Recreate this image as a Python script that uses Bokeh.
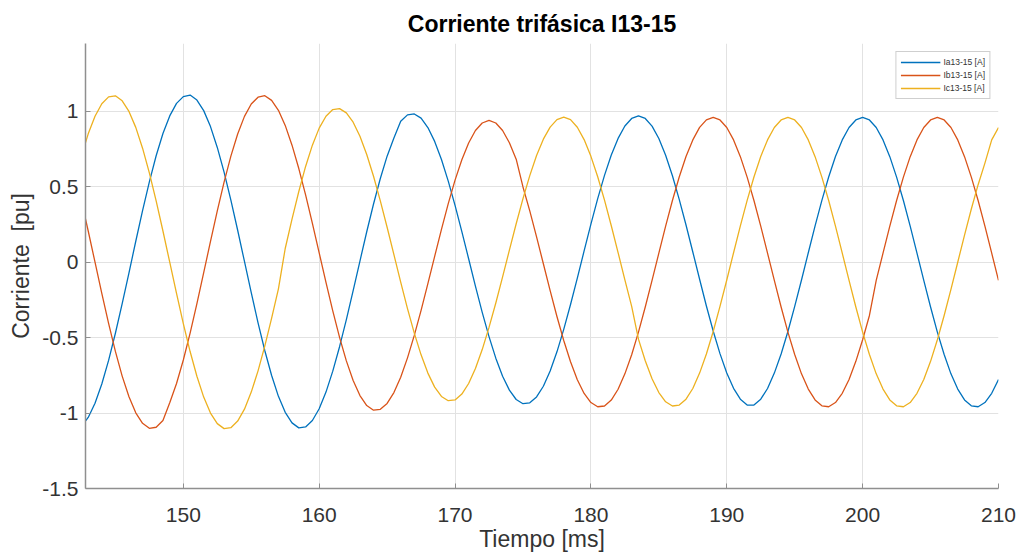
from bokeh.plotting import figure
from bokeh.models import Range1d, FixedTicker
from bokeh.embed import file_html
from bokeh.resources import INLINE

tiempo_ms = [
    142.5, 143.0, 143.5, 144.0, 144.5, 145.0, 145.5, 146.0, 146.5, 147.0,
    147.5, 148.0, 148.5, 149.0, 149.5, 150.0, 150.5, 151.0, 151.5, 152.0,
    152.5, 153.0, 153.5, 154.0, 154.5, 155.0, 155.5, 156.0, 156.5, 157.0,
    157.5, 158.0, 158.5, 159.0, 159.5, 160.0, 160.5, 161.0, 161.5, 162.0,
    162.5, 163.0, 163.5, 164.0, 164.5, 165.0, 165.5, 166.0, 166.5, 167.0,
    167.5, 168.0, 168.5, 169.0, 169.5, 170.0, 170.5, 171.0, 171.5, 172.0,
    172.5, 173.0, 173.5, 174.0, 174.5, 175.0, 175.5, 176.0, 176.5, 177.0,
    177.5, 178.0, 178.5, 179.0, 179.5, 180.0, 180.5, 181.0, 181.5, 182.0,
    182.5, 183.0, 183.5, 184.0, 184.5, 185.0, 185.5, 186.0, 186.5, 187.0,
    187.5, 188.0, 188.5, 189.0, 189.5, 190.0, 190.5, 191.0, 191.5, 192.0,
    192.5, 193.0, 193.5, 194.0, 194.5, 195.0, 195.5, 196.0, 196.5, 197.0,
    197.5, 198.0, 198.5, 199.0, 199.5, 200.0, 200.5, 201.0, 201.5, 202.0,
    202.5, 203.0, 203.5, 204.0, 204.5, 205.0, 205.5, 206.0, 206.5, 207.0,
    207.5, 208.0, 208.5, 209.0, 209.5, 210.0,
]

ia_pu = [
    -1.087, -1.029, -0.935, -0.807, -0.651, -0.471, -0.275, -0.070, 0.139, 0.342,
    0.533, 0.706, 0.853, 0.970, 1.053, 1.098, 1.108, 1.075, 1.005, 0.899,
    0.761, 0.597, 0.412, 0.212, 0.005, -0.202, -0.402, -0.587, -0.751, -0.889,
    -0.995, -1.065, -1.098, -1.092, -1.049, -0.971, -0.861, -0.722, -0.560, -0.380,
    -0.188, 0.008, 0.202, 0.386, 0.555, 0.703, 0.823, 0.934, 0.977, 0.983,
    0.955, 0.893, 0.801, 0.681, 0.538, 0.377, 0.203, 0.023, -0.158, -0.332,
    -0.493, -0.636, -0.756, -0.848, -0.910, -0.938, -0.932, -0.893, -0.822, -0.721,
    -0.594, -0.445, -0.280, -0.105, 0.075, 0.253, 0.422, 0.576, 0.711, 0.821,
    0.903, 0.953, 0.970, 0.953, 0.902, 0.820, 0.709, 0.573, 0.417, 0.247,
    0.068, -0.113, -0.290, -0.456, -0.606, -0.734, -0.836, -0.908, -0.947, -0.947,
    -0.908, -0.837, -0.735, -0.608, -0.459, -0.293, -0.118, 0.063, 0.241, 0.410,
    0.565, 0.701, 0.811, 0.893, 0.943, 0.960, 0.943, 0.893, 0.811, 0.700,
    0.564, 0.409, 0.239, 0.060, -0.120, -0.297, -0.463, -0.612, -0.740, -0.841,
    -0.913, -0.952, -0.958, -0.930, -0.869, -0.777,
]

ib_pu = [
    0.406, 0.207, 0.000, -0.207, -0.406, -0.591, -0.755, -0.892, -0.998, -1.068,
    -1.101, -1.094, -1.049, -0.931, -0.804, -0.648, -0.470, -0.274, -0.069, 0.138,
    0.341, 0.531, 0.703, 0.850, 0.967, 1.049, 1.094, 1.104, 1.073, 1.007,
    0.907, 0.776, 0.621, 0.446, 0.257, 0.062, -0.134, -0.323, -0.498, -0.654,
    -0.784, -0.884, -0.950, -0.981, -0.975, -0.936, -0.864, -0.762, -0.634, -0.485,
    -0.319, -0.142, 0.039, 0.218, 0.388, 0.544, 0.679, 0.790, 0.873, 0.923,
    0.940, 0.923, 0.873, 0.792, 0.683, 0.499, 0.340, 0.168, -0.010, -0.188,
    -0.360, -0.519, -0.660, -0.779, -0.870, -0.930, -0.958, -0.953, -0.914, -0.842,
    -0.740, -0.613, -0.463, -0.297, -0.120, 0.060, 0.239, 0.409, 0.565, 0.701,
    0.811, 0.894, 0.944, 0.960, 0.943, 0.893, 0.811, 0.700, 0.564, 0.409,
    0.239, 0.060, -0.120, -0.297, -0.463, -0.612, -0.740, -0.841, -0.913, -0.952,
    -0.958, -0.930, -0.869, -0.777, -0.657, -0.514, -0.353, -0.120, 0.060, 0.239,
    0.409, 0.564, 0.700, 0.811, 0.893, 0.943, 0.960, 0.943, 0.893, 0.811,
    0.700, 0.564, 0.409, 0.239, 0.060, -0.120,
]

ic_pu = [
    0.704, 0.851, 0.968, 1.051, 1.096, 1.103, 1.070, 1.000, 0.894, 0.756,
    0.592, 0.407, 0.207, 0.000, -0.207, -0.407, -0.592, -0.756, -0.894, -1.000,
    -1.070, -1.103, -1.097, -1.053, -0.974, -0.861, -0.720, -0.554, -0.371, -0.176,
    0.091, 0.286, 0.469, 0.635, 0.776, 0.889, 0.968, 1.012, 1.018, 0.990,
    0.928, 0.835, 0.714, 0.570, 0.407, 0.232, 0.050, -0.132, -0.307, -0.470,
    -0.614, -0.735, -0.828, -0.890, -0.918, -0.913, -0.874, -0.804, -0.704, -0.579,
    -0.432, -0.270, -0.097, 0.080, 0.255, 0.422, 0.574, 0.707, 0.816, 0.896,
    0.945, 0.962, 0.945, 0.895, 0.813, 0.702, 0.567, 0.412, 0.242, 0.064,
    -0.117, -0.293, -0.510, -0.653, -0.772, -0.864, -0.925, -0.953, -0.947, -0.908,
    -0.837, -0.735, -0.608, -0.459, -0.293, -0.118, 0.063, 0.241, 0.410, 0.565,
    0.701, 0.811, 0.893, 0.943, 0.960, 0.943, 0.893, 0.811, 0.700, 0.564,
    0.409, 0.239, 0.060, -0.120, -0.297, -0.463, -0.612, -0.740, -0.841, -0.913,
    -0.952, -0.958, -0.930, -0.869, -0.777, -0.657, -0.514, -0.353, -0.180, 0.000,
    0.180, 0.353, 0.514, 0.657, 0.811, 0.893,
]

title_text = "Corriente trifásica I13-15"
series_names = ["Ia13-15 [A]", "Ib13-15 [A]", "Ic13-15 [A]"]
x_ticks = [150, 160, 170, 180, 190, 200, 210]
y_ticks = [-1.5, -1, -0.5, 0, 0.5, 1]
y_tick_labels = ["-1.5", "-1", "-0.5", "0", "0.5", "1"]

colors = ["#0072BD", "#D95319", "#EDB120"]
FONT = "Liberation Sans"

p = figure(
    width=1020, height=556,
    x_range=Range1d(142.8, 210), y_range=Range1d(-1.5, 1.45),
    output_backend="svg", toolbar_location=None,
    min_border_left=85, min_border_right=22, min_border_top=43, min_border_bottom=68,
    title=title_text,
)
p.outline_line_color = None
p.background_fill_color = "white"
p.border_fill_color = "white"

for ys, name, col in zip([ia_pu, ib_pu, ic_pu], series_names, colors):
    p.line(tiempo_ms, ys, line_color=col, line_width=1.3, legend_label=name,
           line_join="round")

p.title.align = "center"
p.title.text_font = FONT
p.title.text_font_size = "23px"
p.title.text_font_style = "bold"
p.title.text_color = "#000000"
p.title.standoff = 14

p.xaxis.ticker = FixedTicker(ticks=x_ticks)
p.yaxis.ticker = FixedTicker(ticks=y_ticks)
p.yaxis.major_label_overrides = dict(zip(y_ticks, y_tick_labels))

for ax in (p.xaxis, p.yaxis):
    ax.axis_line_color = "#8f8f8f"
    ax.axis_line_width = 1.5
    ax.major_tick_line_color = "#8f8f8f"
    ax.major_tick_in = 5
    ax.major_tick_out = 0
    ax.minor_tick_line_color = None
    ax.major_label_text_font = FONT
    ax.major_label_text_font_size = "21px"
    ax.major_label_text_color = "#333333"
    ax.axis_label_text_font = FONT
    ax.axis_label_text_font_size = "23px"
    ax.axis_label_text_font_style = "normal"
    ax.axis_label_text_color = "#333333"

p.xaxis.axis_label = "Tiempo [ms]"
p.yaxis.axis_label = "Corriente\u00a0 [pu]"
p.xaxis.major_label_standoff = 19
p.xaxis.axis_label_standoff = 1
p.yaxis.major_label_standoff = 7
p.yaxis.axis_label_standoff = 5

p.grid.grid_line_color = "#e2e2e2"
p.grid.grid_line_width = 1

lg = p.legend[0]
lg.location = "top_right"
lg.margin = 8
lg.padding = 4
lg.spacing = 1
lg.label_text_font = FONT
lg.label_text_font_size = "8.5px"
lg.label_text_color = "#333333"
lg.label_height = 12
lg.label_standoff = 3
lg.glyph_height = 12
lg.glyph_width = 40
lg.border_line_color = "#a0a0a0"
lg.border_line_width = 1
lg.background_fill_color = "white"
lg.background_fill_alpha = 1.0

open("out.html", "w").write(file_html(p, INLINE))
